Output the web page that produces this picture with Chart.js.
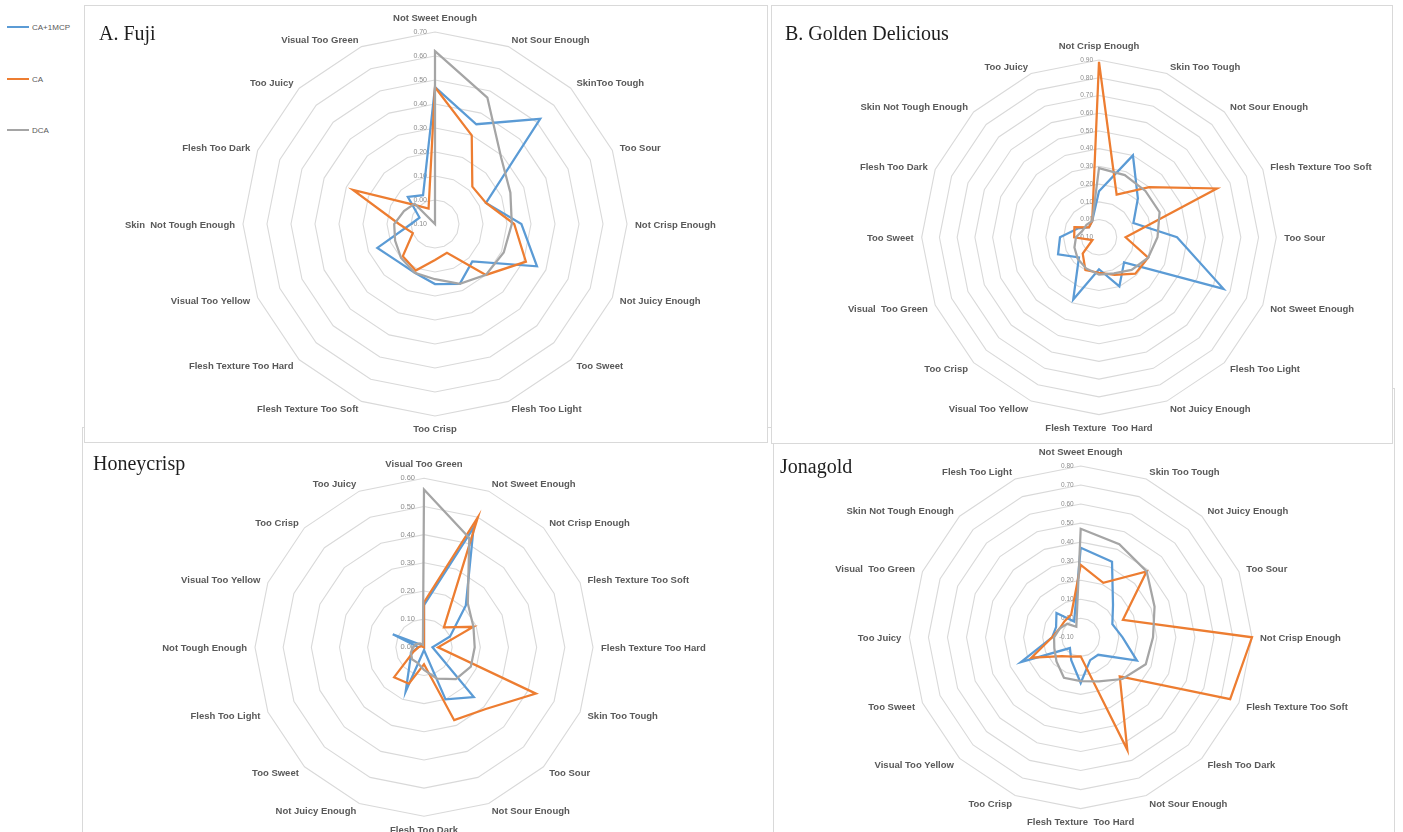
<!DOCTYPE html>
<html>
<head>
<meta charset="utf-8">
<script src="https://cdn.jsdelivr.net/npm/chart.js@4.4.1/dist/chart.umd.min.js"></script>
<style>
  html, body { margin: 0; padding: 0; background: #fff; }
  body { width: 1403px; height: 832px; position: relative; overflow: hidden; font-family: "Liberation Sans", Arial, sans-serif; }
  .panel { position: absolute; box-sizing: border-box; border: 1px solid #d9d9d9; background: #fff; }
  .panel canvas { position: absolute; left: 0; top: 0; }
  .title { position: absolute; font-family: "Liberation Serif", "Times New Roman", serif; font-size: 20px; line-height: 20px; color: #1e1e1e; white-space: nowrap; }
  .key { position: absolute; left: 7px; height: 10px; font-size: 8px; line-height: 10px; color: #595959; white-space: nowrap; }
  .key i { display: inline-block; width: 22px; height: 2.5px; vertical-align: middle; margin-right: 3px; position: relative; top: -1px; }
</style>
</head>
<body>

<div class="key" style="top:23px"><i style="background:#5B9BD5"></i>CA+1MCP</div>
<div class="key" style="top:75px"><i style="background:#ED7D31"></i>CA</div>
<div class="key" style="top:126px"><i style="background:#A5A5A5"></i>DCA</div>

<div class="panel" style="left:82px;top:427px;width:696px;height:420px;z-index:1">
  <canvas id="hc" width="694" height="418"></canvas>
  <div class="title" style="left:10px;top:25px">Honeycrisp</div>
</div>
<div class="panel" style="left:773px;top:388px;width:622px;height:460px;z-index:1">
  <canvas id="jg" width="620" height="458"></canvas>
  <div class="title" style="left:6px;top:67px">Jonagold</div>
</div>
<div class="panel" style="left:84px;top:5px;width:684px;height:438px;z-index:2">
  <canvas id="fuji" width="682" height="436"></canvas>
  <div class="title" style="left:14px;top:17px">A. Fuji</div>
</div>
<div class="panel" style="left:771px;top:5px;width:622px;height:439px;z-index:2">
  <canvas id="gd" width="620" height="437"></canvas>
  <div class="title" style="left:13px;top:17px">B. Golden Delicious</div>
</div>

<script>
// ---- Series names ----
const seriesNames = ['CA+1MCP', 'CA', 'DCA'];

// ---- A. Fuji ----
const fujiCategories = ['Not Sweet Enough', 'Not Sour Enough', 'SkinToo Tough', 'Too Sour', 'Not Crisp Enough',
  'Not Juicy Enough', 'Too Sweet', 'Flesh Too Light', 'Too Crisp', 'Flesh Texture Too Soft',
  'Flesh Texture Too Hard', 'Visual Too Yellow', 'Skin  Not Tough Enough', 'Flesh Too Dark', 'Too Juicy', 'Visual Too Green'];
const fujiCA1MCP = [0.47, 0.35, 0.52, 0.13, 0.26, 0.36, 0.12, 0.17, 0.15, 0.12, 0.12, 0.16, 0.00, -0.03, 0.06, 0.03];
const fujiCA     = [0.47, 0.30, 0.12, 0.13, 0.23, 0.31, 0.20, 0.03, 0.05, 0.11, 0.09, 0.00, 0.05, 0.27, 0.01, -0.03];
const fujiDCA    = [0.62, 0.47, 0.29, 0.24, 0.22, 0.21, 0.20, 0.17, 0.13, 0.12, 0.10, 0.08, 0.07, 0.04, 0.02, -0.10];
const fujiRange  = [-0.10, 0.70];

// ---- B. Golden Delicious ----
const goldenCategories = ['Not Crisp Enough', 'Skin Too Tough', 'Not Sour Enough', 'Flesh Texture Too Soft', 'Too Sour',
  'Not Sweet Enough', 'Flesh Too Light', 'Not Juicy Enough', 'Flesh Texture  Too Hard', 'Visual Too Yellow',
  'Too Crisp', 'Visual  Too Green', 'Too Sweet', 'Flesh Too Dark', 'Skin Not Tough Enough', 'Too Juicy'];
const goldenCA1MCP = [0.16, 0.40, 0.21, 0.11, 0.34, 0.66, 0.10, 0.20, 0.08, 0.28, 0.06, 0.15, 0.12, 0.03, -0.02, 0.00];
const goldenCA     = [0.89, 0.16, 0.30, 0.62, 0.05, 0.20, 0.19, 0.13, 0.10, 0.10, 0.03, -0.06, 0.04, 0.05, -0.02, 0.00];
const goldenDCA    = [0.29, 0.28, 0.27, 0.27, 0.23, 0.20, 0.16, 0.12, 0.11, 0.09, 0.07, 0.05, 0.03, 0.00, 0.00, 0.00];
const goldenRange  = [-0.10, 0.90];

// ---- Honeycrisp ----
const honeyCategories = ['Visual Too Green', 'Not Sweet Enough', 'Not Crisp Enough', 'Flesh Texture Too Soft',
  'Flesh Texture Too Hard', 'Skin Too Tough', 'Too Sour', 'Not Sour Enough', 'Flesh Too Dark', 'Not Juicy Enough',
  'Too Sweet', 'Flesh Too Light', 'Not Tough Enough', 'Visual Too Yellow', 'Too Crisp', 'Too Juicy'];
const honeyCA1MCP = [0.15, 0.46, 0.21, 0.10, 0.03, 0.05, 0.25, 0.20, 0.01, 0.17, 0.07, 0.05, 0.02, 0.12, 0.01, 0.00];
const honeyCA     = [0.16, 0.50, 0.10, 0.19, 0.05, 0.43, 0.31, 0.28, 0.06, 0.14, 0.15, 0.04, 0.02, 0.01, 0.00, 0.00];
const honeyDCA    = [0.56, 0.42, 0.22, 0.19, 0.18, 0.18, 0.16, 0.12, 0.08, 0.06, 0.06, 0.05, 0.04, 0.03, 0.02, 0.01];
const honeyRange  = [0.00, 0.60];

// ---- Jonagold ----
const jonaCategories = ['Not Sweet Enough', 'Skin Too Tough', 'Not Juicy Enough', 'Too Sour', 'Not Crisp Enough',
  'Flesh Texture Too Soft', 'Flesh Too Dark', 'Not Sour Enough', 'Flesh Texture  Too Hard', 'Too Crisp',
  'Visual Too Yellow', 'Too Sweet', 'Too Juicy', 'Visual  Too Green', 'Skin Not Tough Enough', 'Flesh Too Light'];
const jonaCA1MCP = [0.37, 0.33, 0.14, 0.08, 0.12, 0.22, 0.03, 0.03, 0.14, 0.03, -0.02, 0.24, 0.05, 0.04, 0.08, -0.01];
const jonaCA     = [0.28, 0.21, 0.39, 0.14, 0.80, 0.75, 0.19, 0.54, 0.00, 0.01, 0.04, 0.18, 0.05, 0.02, 0.02, 0.03];
const jonaDCA    = [0.47, 0.43, 0.39, 0.32, 0.28, 0.27, 0.21, 0.15, 0.13, 0.13, 0.08, 0.05, 0.04, 0.02, 0.00, -0.04];
const jonaRange  = [-0.10, 0.80];

// ---- Layout of each radar inside its canvas (centre, outer radius, tick label style) ----
const frames = {
  fuji: { cx: 350,   cy: 218,   r: 192,   gap: 8, tickSize: 7 },
  gd:   { cx: 327,   cy: 231.3, r: 177.3, gap: 6, tickSize: 6.5 },
  hc:   { cx: 341,   cy: 219.3, r: 169,   gap: 9, tickSize: 7.5 },
  jg:   { cx: 306.7, cy: 248.3, r: 171.3, gap: 7, tickSize: 6.5 }
};
const labelGap = 8;

const colors = ['#5B9BD5', '#ED7D31', '#A5A5A5'];

// Pin the radial scale to a fixed centre and radius; point labels are then laid out around it.
const RadialScale = Chart.RadialLinearScale || Chart.registry.getScale('radialLinear');
const baseSetCenter = RadialScale.prototype.setCenterPoint;
RadialScale.prototype.setCenterPoint = function (...args) {
  baseSetCenter.apply(this, args);
  const f = frames[this.chart.canvas.id];
  if (f) {
    this.xCenter = f.cx;
    this.yCenter = f.cy;
    this.drawingArea = f.r;
  }
};

// Side labels sit vertically centred on their spoke; top and bottom labels keep their place.
function centreSideLabels(scale) {
  const items = scale._pointLabelItems;
  if (!items) return;
  items.forEach((it, i) => {
    if (it.textAlign === 'center') return;
    const h = it.bottom - it.top;
    const p = scale.getPointPosition(i, scale.drawingArea + labelGap);
    const top = p.y - h / 2 + 1;
    it.y = top;
    it.top = top;
    it.bottom = top + h;
  });
}

// Value labels stacked up the vertical axis, right-aligned just left of it.
const axisValueLabels = {
  id: 'axisValueLabels',
  beforeDatasetsDraw(chart) {
    const s = chart.scales.r;
    const f = frames[chart.canvas.id];
    const ctx = chart.ctx;
    ctx.save();
    ctx.font = f.tickSize + 'px "Liberation Sans", Arial, sans-serif';
    ctx.fillStyle = '#8c8c8c';
    ctx.textAlign = 'right';
    ctx.textBaseline = 'middle';
    s.ticks.forEach(t => {
      const v = Math.abs(t.value) < 1e-9 ? 0 : t.value;
      const d = s.getDistanceFromCenterForValue(t.value);
      ctx.fillText(v.toFixed(2), s.xCenter - f.gap, s.yCenter - d);
    });
    ctx.restore();
  }
};

function radar(id, categories, series, range) {
  return new Chart(document.getElementById(id), {
    type: 'radar',
    data: {
      labels: categories,
      datasets: series.map((vals, i) => ({
        label: seriesNames[i],
        data: vals,
        borderColor: colors[i],
        backgroundColor: colors[i],
        borderWidth: 2.25,
        fill: false,
        pointRadius: 0,
        pointHoverRadius: 0,
        tension: 0,
        order: series.length - 1 - i
      }))
    },
    options: {
      responsive: false,
      animation: false,
      devicePixelRatio: 1,
      layout: { padding: 0 },
      plugins: { legend: { display: false }, tooltip: { enabled: false } },
      scales: {
        r: {
          min: range[0],
          max: range[1],
          beginAtZero: false,
          afterFit: centreSideLabels,
          ticks: { display: false, stepSize: 0.1 },
          grid: { color: '#d9d9d9', lineWidth: 1.1 },
          angleLines: { display: false },
          pointLabels: {
            color: '#595959',
            padding: labelGap,
            font: { family: '"Liberation Sans", Arial, sans-serif', size: 9.5, weight: 'bold' }
          }
        }
      }
    },
    plugins: [axisValueLabels]
  });
}

radar('hc', honeyCategories, [honeyCA1MCP, honeyCA, honeyDCA], honeyRange);
radar('jg', jonaCategories, [jonaCA1MCP, jonaCA, jonaDCA], jonaRange);
radar('fuji', fujiCategories, [fujiCA1MCP, fujiCA, fujiDCA], fujiRange);
radar('gd', goldenCategories, [goldenCA1MCP, goldenCA, goldenDCA], goldenRange);
</script>
</body>
</html>
